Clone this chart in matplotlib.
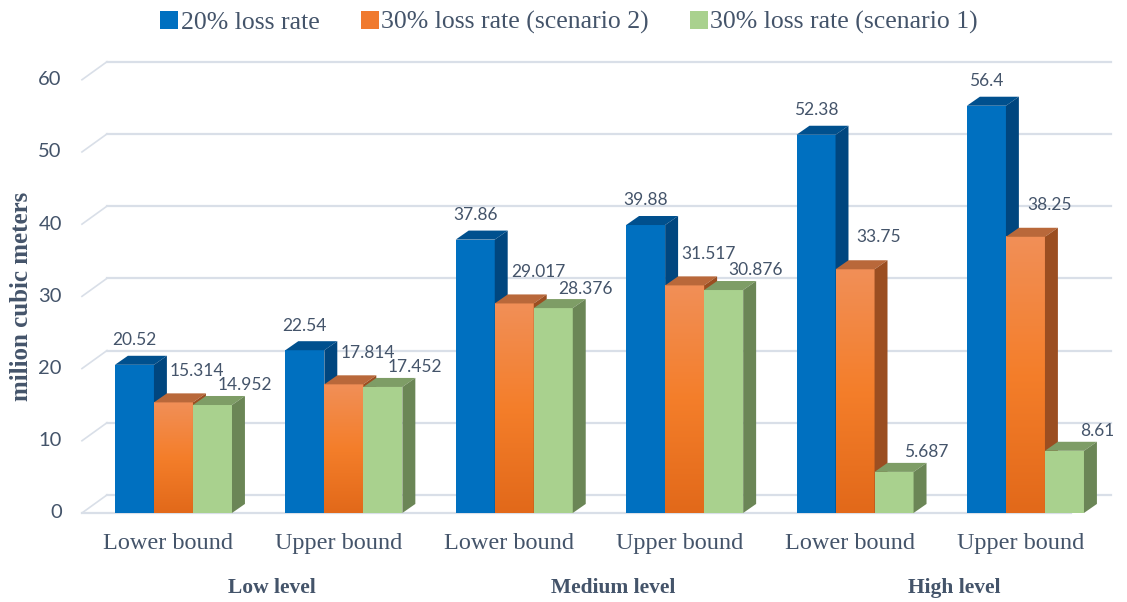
import numpy as np
import matplotlib
matplotlib.use("Agg")
import matplotlib.pyplot as plt
from matplotlib.patches import Polygon, Patch
from matplotlib.colors import LinearSegmentedColormap

# ---------------------------------------------------------------
# data
# ---------------------------------------------------------------
bounds = ["Lower bound", "Upper bound", "Lower bound",
          "Upper bound", "Lower bound", "Upper bound"]
levels = ["Low level", "Medium level", "High level"]
series_names = ["20% loss rate", "30% loss rate (scenario 2)",
                "30% loss rate (scenario 1)"]
loss_20 = [20.52, 22.54, 37.86, 39.88, 52.38, 56.4]
loss_30_s2 = [15.314, 17.814, 29.017, 31.517, 33.75, 38.25]
loss_30_s1 = [14.952, 17.452, 28.376, 30.876, 5.687, 8.61]
y_ticks = [0, 10, 20, 30, 40, 50, 60]

# ---------------------------------------------------------------
# styling
# ---------------------------------------------------------------
text_col = "#44546A"
grid_col = "#D9DFE8"
front = ["#0070C0", None, "#A9D18E"]
tops = ["#00508E", "#B9683A", "#7E9D66"]
sides = ["#00467F", "#9B4E21", "#6B8656"]
orange_grad = LinearSegmentedColormap.from_list("og", ["#E2691A", "#F47E2A", "#F18F57"])
label_dx = [0.0, 0.14, 0.19]     # data-label shift to the right (x units)
label_dy = [2.3, 3.3, 1.6]      # data-label lift above front top (y units)

w = 0.229              # bar width
bdx, bdy = 0.076, 1.25  # bar depth
gdx, gdy = 0.147, 2.5   # back wall depth

fig = plt.figure(figsize=(11.27, 6.02), dpi=100)
ax = fig.add_axes([0.0511, 0.1299, 0.9495, 0.7796])
ax.set_xlim(-0.68, 5.6)
ax.set_ylim(-1.5, 63.5)
ax.axis("off")

# gridlines (back wall + floor edge)
for t in y_ticks:
    ax.plot([-0.537, -0.39], [t, t + gdy], color=grid_col, lw=1.2, zorder=1)
    ax.plot([-0.39, 5.50], [t + gdy, t + gdy], color=grid_col, lw=1.6, zorder=1)
    ax.text(-0.655, t, str(t), ha="right", va="center", fontsize=14.5,
            family="Lato", color=text_col)
ax.plot([-0.537, 5.27], [0, 0], color=grid_col, lw=1.6, zorder=1)

x = np.arange(len(bounds))
all_series = [loss_20, loss_30_s2, loss_30_s1]
z = 2
for i in range(len(bounds)):
    for k, vals in enumerate(all_series):
        v = vals[i]
        x0 = x[i] + (k - 1) * w - w / 2
        x1 = x0 + w
        if k == 1:
            grad = np.linspace(0, 1, 100).reshape(-1, 1)
            ax.imshow(grad, extent=(x0, x1, 0, v), origin="lower", cmap=orange_grad,
                      aspect="auto", zorder=z, interpolation="bilinear")
        else:
            ax.add_patch(Polygon([(x0, 0), (x1, 0), (x1, v), (x0, v)],
                                 closed=True, facecolor=front[k], edgecolor="none", zorder=z))
        ax.add_patch(Polygon([(x0, v), (x1, v), (x1 + bdx, v + bdy), (x0 + bdx, v + bdy)],
                             closed=True, facecolor=tops[k], edgecolor="none", zorder=z + 0.1))
        ax.add_patch(Polygon([(x1, 0), (x1 + bdx, bdy), (x1 + bdx, v + bdy), (x1, v)],
                             closed=True, facecolor=sides[k], edgecolor="none", zorder=z + 0.1))
        ax.text((x0 + x1) / 2 + label_dx[k], v + label_dy[k], f"{v:g}", ha="center",
                va="bottom", fontsize=12.5, family="Lato", color=text_col, zorder=50)
        z += 1

ax.set_xlim(-0.68, 5.6)
ax.set_ylim(-1.5, 63.5)

# category labels
for i, lab in enumerate(bounds):
    ax.text(x[i] - 0.03, -4.2, lab, ha="center", va="center", fontsize=17.5,
            family="Liberation Serif", color=text_col)
for j, lab in enumerate(levels):
    ax.text(2 * j + 0.58, -10.4, lab, ha="center", va="center", fontsize=15.5,
            family="Liberation Serif", fontweight="bold", color=text_col)

fig.text(22 / 1127, 0.507, "milion cubic meters", rotation=90, ha="center", va="center",
         fontsize=18, family="Liberation Serif", fontweight="bold", color=text_col)

handles = [Patch(facecolor="#0070C0"), Patch(facecolor="#F07A2E"), Patch(facecolor="#A9D18E")]
fig.legend(handles, series_names, loc="center", bbox_to_anchor=(0.505, 0.963), ncol=3,
           frameon=False, handlelength=0.7, handleheight=0.7, handletextpad=0.1,
           columnspacing=1.6, prop={"family": "Liberation Serif", "size": 18.5},
           labelcolor=text_col)

fig.savefig("out.png", dpi=100)
